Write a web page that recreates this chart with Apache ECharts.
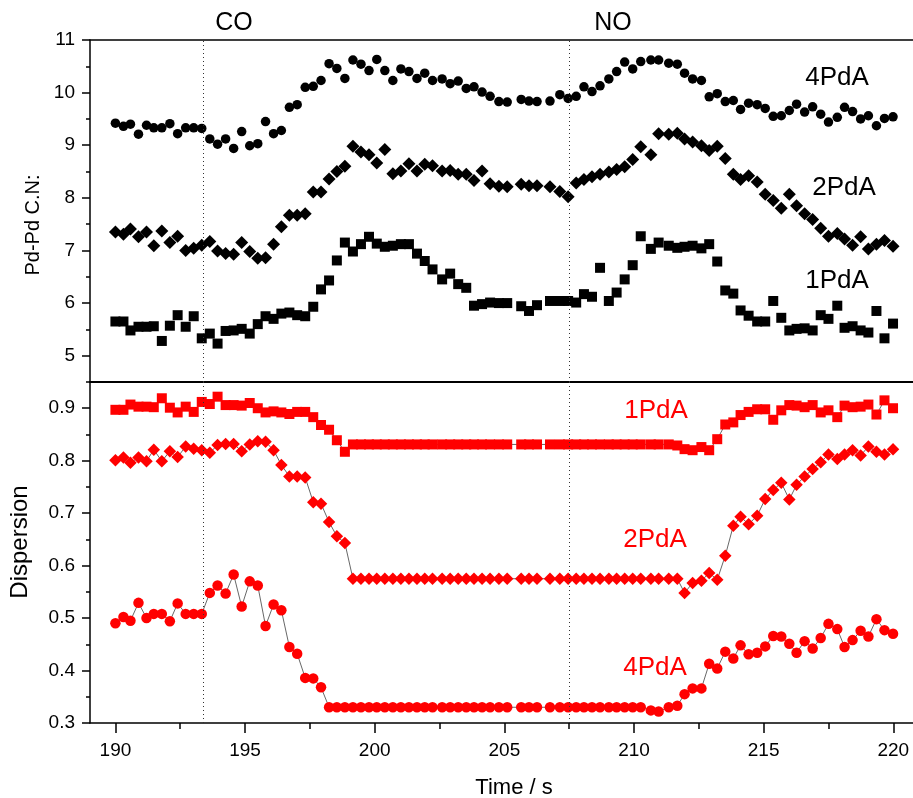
<!DOCTYPE html>
<html>
<head>
<meta charset="utf-8">
<title>Pd-Pd C.N. and dispersion vs time</title>
<script src="https://cdn.jsdelivr.net/npm/echarts@6/dist/echarts.min.js"></script>
<style>
  html, body { margin: 0; padding: 0; background: #fff; }
  #main { width: 913px; height: 798px; }
</style>
</head>
<body>
<div id="main"></div>
<script>
// time stamps (s), shared by all series
const time = [
  190.00, 190.31, 190.58, 190.89, 191.20, 191.48, 191.79, 192.10, 192.40, 192.71,
  193.02, 193.33, 193.64, 193.94, 194.25, 194.56, 194.87, 195.18, 195.49, 195.79,
  196.10, 196.40, 196.71, 197.01, 197.32, 197.63, 197.93, 198.24, 198.54, 198.85,
  199.16, 199.47, 199.78, 200.08, 200.39, 200.70, 201.01, 201.32, 201.63, 201.93,
  202.23, 202.60, 202.91, 203.22, 203.53, 203.83, 204.14, 204.45, 204.79, 205.11,
  205.65, 205.95, 206.26, 206.76, 207.14, 207.46, 207.77, 208.07, 208.38, 208.69,
  209.03, 209.33, 209.64, 209.95, 210.26, 210.65, 210.95, 211.34, 211.67, 211.95,
  212.26, 212.60, 212.90, 213.21, 213.52, 213.83, 214.11, 214.42, 214.75, 215.06,
  215.37, 215.68, 215.99, 216.27, 216.58, 216.89, 217.20, 217.50, 217.84, 218.12,
  218.43, 218.74, 219.04, 219.35, 219.66, 219.99
];

// Pd-Pd coordination number
const cn1PdA = [
  5.65, 5.65, 5.48, 5.55, 5.55, 5.56, 5.28, 5.57, 5.77, 5.55,
  5.75, 5.33, 5.42, 5.23, 5.47, 5.48, 5.51, 5.42, 5.60, 5.75,
  5.70, 5.80, 5.82, 5.77, 5.75, 5.93, 6.26, 6.43, 6.81, 7.15,
  6.98, 7.12, 7.26, 7.13, 7.07, 7.09, 7.12, 7.12, 6.94, 6.80,
  6.64, 6.45, 6.56, 6.36, 6.29, 5.95, 5.98, 6.01, 6.00, 6.00,
  5.94, 5.85, 5.96, 6.04, 6.04, 6.04, 6.01, 6.17, 6.12, 6.67,
  6.04, 6.20, 6.45, 6.72, 7.27, 7.03, 7.15, 7.09, 7.05, 7.07,
  7.09, 7.04, 7.12, 6.79, 6.24, 6.18, 5.86, 5.76, 5.65, 5.65,
  6.04, 5.72, 5.48, 5.51, 5.52, 5.48, 5.77, 5.70, 5.95, 5.53,
  5.56, 5.48, 5.44, 5.85, 5.33, 5.61
];
const cn2PdA = [
  7.35, 7.31, 7.41, 7.26, 7.35, 7.09, 7.37, 7.15, 7.27, 7.00,
  7.04, 7.10, 7.17, 6.99, 6.94, 6.93, 7.15, 6.98, 6.85, 6.86,
  7.12, 7.45, 7.67, 7.67, 7.70, 8.11, 8.11, 8.36, 8.50, 8.60,
  8.98, 8.87, 8.82, 8.66, 8.92, 8.46, 8.51, 8.65, 8.51, 8.64,
  8.61, 8.51, 8.52, 8.45, 8.45, 8.33, 8.51, 8.27, 8.22, 8.21,
  8.26, 8.23, 8.23, 8.21, 8.12, 8.02, 8.28, 8.35, 8.40, 8.45,
  8.49, 8.54, 8.59, 8.73, 8.97, 8.82, 9.22, 9.21, 9.23, 9.12,
  9.06, 8.99, 8.90, 8.98, 8.75, 8.45, 8.35, 8.42, 8.30, 8.07,
  7.95, 7.80, 8.07, 7.85, 7.70, 7.59, 7.42, 7.27, 7.32, 7.22,
  7.10, 7.26, 7.03, 7.12, 7.19, 7.08
];
const cn4PdA = [
  9.42, 9.36, 9.40, 9.21, 9.38, 9.33, 9.33, 9.41, 9.22, 9.33,
  9.33, 9.32, 9.12, 9.02, 9.12, 8.94, 9.26, 8.99, 9.03, 9.45,
  9.22, 9.28, 9.72, 9.77, 10.10, 10.12, 10.23, 10.55, 10.46, 10.27,
  10.62, 10.54, 10.42, 10.63, 10.42, 10.23, 10.45, 10.40, 10.27, 10.37,
  10.23, 10.26, 10.17, 10.22, 10.08, 10.11, 10.01, 9.93, 9.83, 9.82,
  9.87, 9.84, 9.83, 9.84, 9.96, 9.89, 9.93, 10.11, 10.02, 10.13,
  10.26, 10.40, 10.58, 10.45, 10.59, 10.62, 10.62, 10.56, 10.54, 10.37,
  10.26, 10.23, 9.92, 9.98, 9.83, 9.85, 9.68, 9.80, 9.77, 9.70,
  9.55, 9.56, 9.66, 9.78, 9.63, 9.73, 9.59, 9.44, 9.53, 9.72,
  9.64, 9.50, 9.56, 9.37, 9.51, 9.54
];

// dispersion
const disp1PdA = [
  0.897, 0.897, 0.907, 0.903, 0.903, 0.902, 0.919, 0.901, 0.892, 0.903,
  0.893, 0.912, 0.908, 0.922, 0.906, 0.906, 0.905, 0.910, 0.900, 0.892,
  0.894, 0.892, 0.889, 0.893, 0.893, 0.883, 0.868, 0.859, 0.839, 0.817,
  0.831, 0.831, 0.831, 0.831, 0.831, 0.831, 0.831, 0.831, 0.831, 0.831,
  0.831, 0.831, 0.831, 0.831, 0.831, 0.831, 0.831, 0.831, 0.831, 0.831,
  0.831, 0.831, 0.831, 0.831, 0.831, 0.831, 0.831, 0.831, 0.831, 0.831,
  0.831, 0.831, 0.831, 0.831, 0.831, 0.831, 0.831, 0.831, 0.829, 0.822,
  0.820, 0.826, 0.820, 0.841, 0.869, 0.873, 0.887, 0.893, 0.898, 0.898,
  0.878, 0.896, 0.906, 0.905, 0.902, 0.906, 0.892, 0.896, 0.883, 0.905,
  0.902, 0.903, 0.907, 0.888, 0.915, 0.900
];
const disp2PdA = [
  0.801, 0.806, 0.796, 0.806, 0.799, 0.821, 0.799, 0.818, 0.807, 0.827,
  0.823, 0.820, 0.815, 0.830, 0.832, 0.832, 0.818, 0.831, 0.837, 0.836,
  0.820, 0.792, 0.770, 0.770, 0.768, 0.721, 0.718, 0.683, 0.656, 0.643,
  0.575, 0.575, 0.575, 0.575, 0.575, 0.575, 0.575, 0.575, 0.575, 0.575,
  0.575, 0.575, 0.575, 0.575, 0.575, 0.575, 0.575, 0.575, 0.575, 0.575,
  0.575, 0.575, 0.575, 0.575, 0.575, 0.575, 0.575, 0.575, 0.575, 0.575,
  0.575, 0.575, 0.575, 0.575, 0.575, 0.575, 0.575, 0.575, 0.575, 0.548,
  0.567, 0.571, 0.586, 0.573, 0.619, 0.676, 0.693, 0.679, 0.695, 0.727,
  0.744, 0.758, 0.726, 0.754, 0.770, 0.784, 0.797, 0.812, 0.803, 0.812,
  0.820, 0.810, 0.827, 0.817, 0.812, 0.822
];
const disp4PdA = [
  0.490, 0.502, 0.495, 0.529, 0.500, 0.508, 0.508, 0.494, 0.528, 0.508,
  0.508, 0.508, 0.548, 0.562, 0.547, 0.583, 0.522, 0.570, 0.562, 0.485,
  0.526, 0.515, 0.445, 0.432, 0.386, 0.385, 0.368, 0.330, 0.330, 0.330,
  0.330, 0.330, 0.330, 0.330, 0.330, 0.330, 0.330, 0.330, 0.330, 0.330,
  0.330, 0.330, 0.330, 0.330, 0.330, 0.330, 0.330, 0.330, 0.330, 0.330,
  0.330, 0.330, 0.330, 0.330, 0.330, 0.330, 0.330, 0.330, 0.330, 0.330,
  0.330, 0.330, 0.330, 0.330, 0.330, 0.324, 0.322, 0.330, 0.333, 0.355,
  0.366, 0.366, 0.413, 0.404, 0.436, 0.423, 0.448, 0.431, 0.434, 0.446,
  0.466, 0.465, 0.451, 0.434, 0.456, 0.442, 0.462, 0.489, 0.479, 0.445,
  0.458, 0.476, 0.465, 0.498, 0.477, 0.470
];

// axis ticks
const xMajorTicks = [190, 195, 200, 205, 210, 215, 220];
const xMinorTicks = [192.5, 197.5, 202.5, 207.5, 212.5, 217.5];
const cnTicks = [5, 6, 7, 8, 9, 10, 11];
const cnMinorTicks = [4.5, 5.5, 6.5, 7.5, 8.5, 9.5, 10.5];
const dispTicks = [0.3, 0.4, 0.5, 0.6, 0.7, 0.8, 0.9];
const dispMinorTicks = [0.35, 0.45, 0.55, 0.65, 0.75, 0.85, 0.95];

// gas switching times
const gasSwitch = [193.38, 207.5];

const XMIN = 189.02, XMAX = 220.76;
const FONT = '"Liberation Sans", Arial, Helvetica, sans-serif';

function pairs(vals) {
  return time.map(function (t, i) { return [t, vals[i]]; });
}

const chart = echarts.init(document.getElementById('main'));

const axisLine = { show: true, onZero: false, lineStyle: { color: '#000', width: 1.5 } };
const noAxis = { show: false, onZero: false };

function xAx(grid, pos, extra) {
  return Object.assign({
    gridIndex: grid, type: 'value', min: XMIN, max: XMAX, position: pos,
    axisLine: axisLine, axisTick: { show: false }, axisLabel: { show: false },
    splitLine: { show: false }
  }, extra);
}
function yAx(grid, min, max, extra) {
  return Object.assign({
    gridIndex: grid, type: 'value', min: min, max: max, position: 'left',
    axisLine: axisLine, axisTick: { show: false }, axisLabel: { show: false },
    splitLine: { show: false }
  }, extra);
}

const dotted = {
  silent: true,
  symbol: 'none',
  label: { show: false },
  lineStyle: { color: '#333', type: [1, 3], width: 1 },
  data: gasSwitch.map(function (t) { return { xAxis: t }; })
};

function topSeries(name, vals, symbol, size, withLine) {
  const s = {
    name: name, type: 'scatter', xAxisIndex: 0, yAxisIndex: 0,
    data: pairs(vals), symbol: symbol, symbolSize: size,
    itemStyle: { color: '#000', opacity: 1 }
  };
  if (withLine) s.markLine = dotted;
  return s;
}
function bottomSeries(name, vals, symbol, size, withLine) {
  const s = {
    name: name, type: 'line', xAxisIndex: 2, yAxisIndex: 2,
    data: pairs(vals), symbol: symbol, symbolSize: size, showSymbol: true,
    itemStyle: { color: '#ff0000', opacity: 1 },
    lineStyle: { color: '#000', width: 0.6 }
  };
  if (withLine) s.markLine = dotted;
  return s;
}

function txt(text, x, y, size, color, rot) {
  return {
    type: 'text', x: x, y: y, rotation: rot || 0,
    style: {
      text: text, fill: color || '#000', font: size + 'px ' + FONT,
      align: 'center', verticalAlign: 'middle'
    }
  };
}

chart.setOption({
  animation: false,
  backgroundColor: '#fff',
  textStyle: { fontFamily: FONT },
  grid: [
    { left: 90, right: 0, top: 40, height: 342 },
    { left: 90, right: 0, top: 382, height: 341 }
  ],
  xAxis: [
    xAx(0, 'top', {}),
    xAx(1, 'top', { axisLine: { show: true, onZero: false, lineStyle: { color: '#000', width: 2 } } }),
    xAx(1, 'bottom', {
      axisTick: { show: true, customValues: xMajorTicks, length: 10, lineStyle: { color: '#000', width: 1.5 } },
      axisLabel: { show: true, customValues: xMajorTicks, margin: 18, fontSize: 19, fontFamily: FONT, color: '#000' }
    }),
    xAx(1, 'bottom', {
      axisLine: noAxis,
      axisTick: { show: true, customValues: xMinorTicks, length: 6, lineStyle: { color: '#000', width: 1.5 } }
    })
  ],
  yAxis: [
    yAx(0, 4.5, 11, {
      axisTick: { show: true, customValues: cnTicks, length: 8, lineStyle: { color: '#000', width: 1.5 } },
      axisLabel: { show: true, customValues: cnTicks, margin: 15, fontSize: 19, fontFamily: FONT, color: '#000' }
    }),
    yAx(0, 4.5, 11, {
      axisLine: noAxis,
      axisTick: { show: true, customValues: cnMinorTicks, length: 4, lineStyle: { color: '#000', width: 1.5 } }
    }),
    yAx(1, 0.3, 0.95, {
      axisTick: { show: true, customValues: dispTicks, length: 8, lineStyle: { color: '#000', width: 1.5 } },
      axisLabel: { show: true, customValues: dispTicks, margin: 15, fontSize: 19, fontFamily: FONT, color: '#000',
        formatter: function (v) { return v.toFixed(1); } }
    }),
    yAx(1, 0.3, 0.95, {
      axisLine: noAxis,
      axisTick: { show: true, customValues: dispMinorTicks, length: 4, lineStyle: { color: '#000', width: 1.5 } }
    })
  ],
  series: [
    topSeries('1PdA C.N.', cn1PdA, 'rect', 10, true),
    topSeries('2PdA C.N.', cn2PdA, 'diamond', 13, false),
    topSeries('4PdA C.N.', cn4PdA, 'circle', 9.5, false),
    bottomSeries('1PdA dispersion', disp1PdA, 'rect', 10, true),
    bottomSeries('2PdA dispersion', disp2PdA, 'diamond', 12.5, false),
    bottomSeries('4PdA dispersion', disp4PdA, 'circle', 10.5, false)
  ],
  graphic: [
    txt('CO', 234, 23, 25),
    txt('NO', 613, 23, 25),
    txt('4PdA', 837, 78, 26),
    txt('2PdA', 844, 188, 26),
    txt('1PdA', 837, 281, 26),
    txt('1PdA', 656, 411, 26, '#ff0000'),
    txt('2PdA', 655, 540, 26, '#ff0000'),
    txt('4PdA', 655, 668, 26, '#ff0000'),
    txt('Pd-Pd C.N:', 33, 225, 20, '#000', Math.PI / 2),
    txt('Dispersion', 20, 542, 24, '#000', Math.PI / 2),
    txt('Time / s', 514, 788, 22)
  ]
});

window.addEventListener('resize', function () { chart.resize(); });
</script>
</body>
</html>
